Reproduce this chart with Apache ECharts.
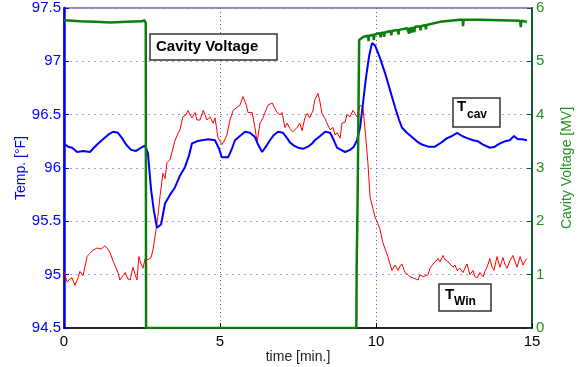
<!DOCTYPE html>
<html>
<head>
<meta charset="utf-8">
<script src="https://cdn.jsdelivr.net/npm/echarts@6/dist/echarts.min.js"></script>
<style>
  html, body { margin: 0; padding: 0; background: #fff; }
  #chart { width: 578px; height: 367px; }
</style>
</head>
<body>
<div id="chart"></div>
<script>
// time [min.], temperature [F]
const tCav = [
  [0.00, 96.23], [0.13, 96.20], [0.26, 96.19], [0.42, 96.15], [0.61, 96.16], [0.83, 96.15],
  [1.06, 96.22], [1.25, 96.27], [1.41, 96.31], [1.57, 96.34], [1.73, 96.33], [1.86, 96.28],
  [1.99, 96.22], [2.15, 96.17], [2.31, 96.16], [2.47, 96.19], [2.60, 96.21], [2.69, 96.14],
  [2.79, 95.80], [2.88, 95.60], [2.98, 95.44], [3.11, 95.47], [3.24, 95.67], [3.40, 95.75],
  [3.56, 95.82], [3.72, 95.93], [3.88, 96.01], [4.01, 96.12], [4.10, 96.23], [4.26, 96.25],
  [4.42, 96.26], [4.62, 96.27], [4.84, 96.26], [4.97, 96.18], [5.06, 96.10], [5.26, 96.10],
  [5.38, 96.18], [5.48, 96.26], [5.64, 96.30], [5.80, 96.34], [5.96, 96.33], [6.12, 96.29],
  [6.22, 96.22], [6.35, 96.15], [6.47, 96.20], [6.60, 96.26], [6.73, 96.31], [6.86, 96.34],
  [7.02, 96.33], [7.15, 96.28], [7.24, 96.24], [7.37, 96.21], [7.50, 96.19], [7.66, 96.18],
  [7.82, 96.20], [7.95, 96.23], [8.04, 96.26], [8.21, 96.30], [8.37, 96.34], [8.53, 96.33],
  [8.65, 96.26], [8.75, 96.19], [8.88, 96.17], [9.01, 96.15], [9.17, 96.17], [9.29, 96.20],
  [9.39, 96.26], [9.49, 96.38], [9.58, 96.60], [9.68, 96.85], [9.78, 97.05], [9.87, 97.17],
  [9.97, 97.15], [10.13, 97.03], [10.29, 96.89], [10.45, 96.73], [10.61, 96.57], [10.74, 96.45],
  [10.83, 96.38], [10.99, 96.33], [11.15, 96.29], [11.31, 96.25], [11.47, 96.22], [11.67, 96.20],
  [11.89, 96.20], [12.05, 96.23], [12.28, 96.28], [12.44, 96.30], [12.60, 96.33], [12.76, 96.30],
  [12.92, 96.28], [13.11, 96.26], [13.27, 96.25], [13.43, 96.22], [13.65, 96.19], [13.81, 96.20],
  [13.97, 96.23], [14.13, 96.25], [14.29, 96.26], [14.42, 96.30], [14.55, 96.27], [14.68, 96.27],
  [14.84, 96.26]
];

const tWin = [
  [0.00, 95.03], [0.10, 94.93], [0.19, 94.96], [0.26, 94.97], [0.35, 94.90], [0.45, 94.97],
  [0.51, 95.03], [0.61, 94.99], [0.67, 95.00], [0.74, 95.17], [0.83, 95.20], [0.93, 95.23],
  [1.06, 95.25], [1.19, 95.24], [1.31, 95.27], [1.41, 95.24], [1.47, 95.21], [1.57, 95.13],
  [1.63, 95.09], [1.73, 95.02], [1.79, 94.95], [1.89, 94.99], [1.96, 95.02], [2.05, 94.96],
  [2.12, 94.95], [2.21, 95.07], [2.28, 95.00], [2.34, 94.95], [2.40, 95.17], [2.47, 95.10],
  [2.53, 95.06], [2.60, 95.15], [2.69, 95.14], [2.79, 95.16], [2.85, 95.23], [2.95, 95.42],
  [3.01, 95.55], [3.08, 95.74], [3.17, 95.95], [3.24, 95.90], [3.30, 96.05], [3.40, 96.08],
  [3.46, 96.07], [3.56, 96.26], [3.65, 96.32], [3.72, 96.36], [3.81, 96.48], [3.91, 96.50],
  [3.97, 96.54], [4.04, 96.50], [4.10, 96.47], [4.20, 96.52], [4.26, 96.45], [4.36, 96.45],
  [4.46, 96.54], [4.52, 96.50], [4.58, 96.45], [4.68, 96.48], [4.78, 96.42], [4.84, 96.47],
  [4.94, 96.28], [5.00, 96.25], [5.06, 96.22], [5.13, 96.25], [5.22, 96.31], [5.32, 96.45],
  [5.42, 96.54], [5.48, 96.55], [5.55, 96.57], [5.64, 96.59], [5.74, 96.67], [5.83, 96.60],
  [5.90, 96.52], [6.03, 96.52], [6.12, 96.38], [6.19, 96.24], [6.28, 96.42], [6.38, 96.47],
  [6.44, 96.52], [6.54, 96.59], [6.67, 96.61], [6.73, 96.61], [6.83, 96.52], [6.92, 96.50],
  [6.99, 96.52], [7.08, 96.38], [7.15, 96.42], [7.24, 96.37], [7.34, 96.34], [7.47, 96.38],
  [7.56, 96.42], [7.63, 96.35], [7.72, 96.47], [7.79, 96.51], [7.88, 96.47], [7.98, 96.54],
  [8.04, 96.64], [8.14, 96.70], [8.21, 96.61], [8.27, 96.51], [8.37, 96.46], [8.46, 96.40],
  [8.53, 96.36], [8.62, 96.38], [8.69, 96.31], [8.75, 96.33], [8.85, 96.28], [8.91, 96.42],
  [9.01, 96.43], [9.07, 96.50], [9.17, 96.48], [9.26, 96.54], [9.39, 96.48], [9.49, 96.59],
  [9.58, 96.57], [9.65, 96.36], [9.74, 96.05], [9.81, 95.73], [9.90, 95.62], [9.97, 95.54],
  [10.06, 95.48], [10.13, 95.42], [10.22, 95.30], [10.32, 95.22], [10.38, 95.17], [10.45, 95.10],
  [10.51, 95.04], [10.61, 95.09], [10.71, 95.04], [10.77, 95.08], [10.83, 95.10], [10.93, 95.02],
  [11.03, 95.00], [11.09, 94.98], [11.19, 94.97], [11.25, 94.97], [11.35, 94.95], [11.41, 95.00],
  [11.51, 94.98], [11.57, 94.98], [11.67, 95.00], [11.73, 95.06], [11.83, 95.10], [11.89, 95.11],
  [11.99, 95.15], [12.05, 95.12], [12.15, 95.18], [12.21, 95.14], [12.28, 95.13], [12.37, 95.10],
  [12.47, 95.07], [12.53, 95.09], [12.60, 95.04], [12.69, 95.06], [12.79, 95.02], [12.85, 95.06],
  [12.92, 95.10], [13.01, 95.00], [13.11, 95.04], [13.17, 94.98], [13.24, 94.97], [13.33, 95.02],
  [13.43, 94.98], [13.49, 95.03], [13.56, 95.07], [13.65, 95.15], [13.72, 95.07], [13.78, 95.04],
  [13.88, 95.17], [13.97, 95.07], [14.07, 95.16], [14.13, 95.10], [14.20, 95.06], [14.29, 95.13],
  [14.39, 95.18], [14.46, 95.12], [14.52, 95.07], [14.62, 95.17], [14.71, 95.09], [14.78, 95.13],
  [14.84, 95.15]
];

// time [min.], cavity voltage [MV]
const voltage = [
  [0.00, 5.77], [0.50, 5.75], [1.00, 5.74], [1.50, 5.73], [2.00, 5.74], [2.50, 5.75],
  [2.58, 5.77], [2.62, 5.72], [2.63, 0], [9.37, 0], [9.38, 1.12], [9.40, 1.12],
  [9.41, 2.37], [9.45, 2.40], [9.46, 5.40], [9.60, 5.46], [9.75, 5.48], [9.76, 5.38],
  [9.78, 5.48], [9.92, 5.50], [9.93, 5.40], [9.95, 5.50], [10.13, 5.53], [10.15, 5.45],
  [10.17, 5.53], [10.24, 5.54], [10.26, 5.46], [10.28, 5.54], [10.47, 5.57], [10.49, 5.49],
  [10.51, 5.57], [10.70, 5.59], [10.72, 5.50], [10.74, 5.59], [11.00, 5.62], [11.05, 5.63],
  [11.06, 5.52], [11.08, 5.63], [11.13, 5.64], [11.14, 5.54], [11.16, 5.64], [11.22, 5.65],
  [11.23, 5.55], [11.25, 5.65], [11.41, 5.66], [11.43, 5.58], [11.45, 5.66], [11.58, 5.68],
  [11.60, 5.60], [11.62, 5.68], [12.05, 5.74], [12.69, 5.78], [12.78, 5.78], [12.79, 5.66],
  [12.81, 5.78], [13.33, 5.78], [13.97, 5.77], [14.62, 5.76], [14.64, 5.64], [14.66, 5.76],
  [14.84, 5.74]
];

const xTicks = [0, 15, 5];      // min, max, interval
const tempTicks = [94.5, 97.5, 0.5];
const voltTicks = [0, 6, 1];

const FONT = '"Liberation Sans", Arial, Helvetica, sans-serif';
const BLUE = '#0000ff';
const RED = '#ff0000';
const GREEN = '#0a7d0a';
const GREEN_TXT = '#229122';

const chart = echarts.init(document.getElementById('chart'), null, { renderer: 'canvas' });

function box(x, y, w, h) {
  return {
    type: 'rect',
    shape: { x: x, y: y, width: w, height: h },
    style: { fill: '#fff', stroke: '#333', lineWidth: 1.5 },
    z: 100
  };
}
function label(x, y, text, size) {
  return {
    type: 'text',
    x: x, y: y,
    style: {
      text: text, fill: '#000',
      font: 'bold ' + size + 'px ' + FONT,
      verticalAlign: 'middle'
    },
    z: 101
  };
}

chart.setOption({
  animation: false,
  backgroundColor: '#fff',
  textStyle: { fontFamily: FONT },
  grid: {
    left: 64, right: 46, top: 8, bottom: 39,
    outerBoundsMode: 'none',
    containLabel: false,
    show: true, borderColor: '#222', borderWidth: 1.2, backgroundColor: '#fff'
  },
  xAxis: {
    type: 'value',
    min: xTicks[0], max: xTicks[1], interval: xTicks[2],
    name: 'time [min.]',
    nameLocation: 'middle',
    nameGap: 22,
    nameMoveOverlap: false,
    nameTextStyle: { color: '#222', fontSize: 14, fontFamily: FONT },
    axisLine: { onZero: false, lineStyle: { color: '#000', width: 1.5 } },
    axisTick: { inside: true, length: 5, lineStyle: { color: '#000' } },
    axisLabel: { color: '#000', fontSize: 15, margin: 6, fontFamily: FONT },
    splitLine: { show: true, lineStyle: { color: '#666', type: [1, 3], width: 1 } }
  },
  yAxis: [
    {
      type: 'value',
      position: 'left',
      min: tempTicks[0], max: tempTicks[1], interval: tempTicks[2],
      name: 'Temp. [°F]',
      nameLocation: 'middle',
      nameGap: 36,
      nameMoveOverlap: false,
      nameTextStyle: { color: BLUE, fontSize: 14, fontFamily: FONT },
      axisLine: { show: true, onZero: false, lineStyle: { color: BLUE, width: 2.5 } },
      axisTick: { inside: true, length: 5, lineStyle: { color: BLUE } },
      axisLabel: { color: BLUE, fontSize: 15, margin: 3, fontFamily: FONT },
      splitLine: { show: true, lineStyle: { color: '#9a9af5', type: [2, 4], width: 1 } }
    },
    {
      type: 'value',
      position: 'right',
      min: voltTicks[0], max: voltTicks[1], interval: voltTicks[2],
      name: 'Cavity Voltage [MV]',
      nameLocation: 'middle',
      nameGap: 28,
      nameMoveOverlap: false,
      nameTextStyle: { color: GREEN_TXT, fontSize: 14, fontFamily: FONT },
      axisLine: { show: true, onZero: false, lineStyle: { color: '#0b5e2c', width: 2 } },
      axisTick: { inside: true, length: 5, lineStyle: { color: '#0b5e2c' } },
      axisLabel: { color: GREEN_TXT, fontSize: 15, margin: 4, fontFamily: FONT },
      splitLine: { show: false }
    }
  ],
  series: [
    {
      name: 'T cav', type: 'line', yAxisIndex: 0,
      data: tCav, showSymbol: false, symbol: 'none',
      lineStyle: { color: BLUE, width: 2 }, z: 3
    },
    {
      name: 'T win', type: 'line', yAxisIndex: 0,
      data: tWin, showSymbol: false, symbol: 'none',
      lineStyle: { color: RED, width: 1 }, z: 2
    },
    {
      name: 'Cavity Voltage', type: 'line', yAxisIndex: 1,
      data: voltage, showSymbol: false, symbol: 'none',
      lineStyle: { color: GREEN, width: 2.5 }, z: 4
    }
  ],
  graphic: [
    box(150, 34, 127, 26),
    label(156, 47, 'Cavity Voltage', 15),
    box(453, 98, 47, 29),
    label(457, 107, 'T', 15),
    label(467, 115, 'cav', 12),
    box(439, 284, 52, 27),
    label(445, 295, 'T', 15),
    label(454, 302, 'Win', 12)
  ]
});
</script>
</body>
</html>
